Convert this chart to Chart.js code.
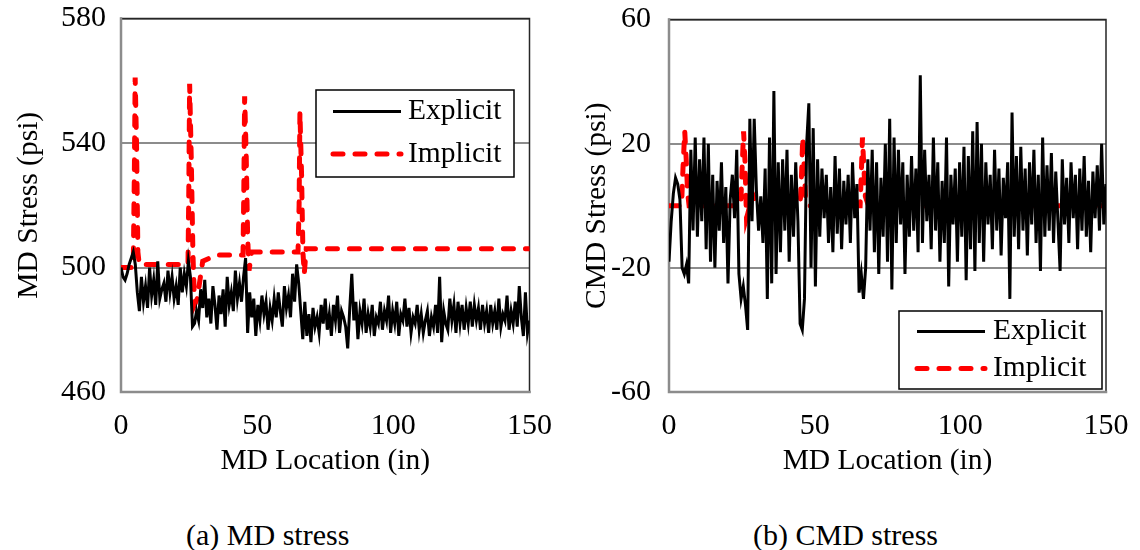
<!DOCTYPE html>
<html>
<head>
<meta charset="utf-8">
<script src="https://cdn.jsdelivr.net/npm/chart.js@4.4.1/dist/chart.umd.min.js"></script>
<style>
  body { margin: 0; background: #fff; width: 1140px; height: 550px; position: relative; overflow: hidden; }
  canvas { position: absolute; top: 0; }
  #mdChart { left: 0; }
  #cmdChart { left: 560px; }
  .caption { position: absolute; top: 519px; font-family: 'Liberation Serif', serif; font-size: 30px; line-height: 32px; color: #000; white-space: nowrap; }
</style>
</head>
<body>
<canvas id="mdChart" width="570" height="490"></canvas>
<canvas id="cmdChart" width="580" height="490"></canvas>
<div class="caption" style="left:186px">(a) MD stress</div>
<div class="caption" style="left:753px">(b) CMD stress</div>
<script>
const SERIF = "'Liberation Serif', 'Times New Roman', serif"

// explicit solution, sampled every 0.75 in along MD
const locStep = 0.75
const mdExplicit = [
    500, 497, 496, 498, 501, 503, 505, 501, 492, 486,
    497, 489, 494, 487, 500, 491, 496, 488, 502, 490,
    493, 495, 489, 499, 492, 497, 490, 494, 488, 500,
    492, 498, 494, 502, 497, 481, 482, 486, 483, 493,
    487, 496, 484, 490, 482, 494, 488, 480, 491, 485,
    493, 481, 497, 488, 492, 486, 499, 490, 495, 489,
    497, 503, 479, 492, 484, 490, 478, 488, 483, 491,
    485, 489, 480, 487, 483, 490, 484, 492, 486, 481,
    494, 487, 491, 484, 498, 489, 501, 495, 486, 477,
    489, 478, 485, 476, 487, 481, 484, 479, 488, 482,
    490, 480, 485, 478, 488, 483, 491, 479, 486, 484,
    481, 474, 487, 498, 483, 489, 477, 486, 482, 490,
    479, 485, 481, 488, 478, 484, 482, 489, 480, 486,
    483, 491, 479, 486, 482, 489, 478, 485, 483, 490,
    481, 487, 479, 484, 482, 488, 480, 485, 479, 483,
    486, 478, 484, 481, 488, 479, 497, 476, 486, 482,
    480, 490, 483, 488, 479, 489, 482, 488, 480, 487,
    482, 489, 481, 488, 483, 487, 480, 488, 482, 486,
    479, 488, 482, 486, 480, 490, 481, 485, 483, 491,
    480, 486, 482, 489, 481, 494, 484, 478, 492, 479,
    483
]
const cmdExplicit = [
    -18, -5, 4, 9, 7, 2, -20, -22, -19, -25,
    18, -8, 22, -10, 15, -5, 22, -14, 20, -18,
    10, -20, 8, -8, 14, -12, 6, -25, 2, 10,
    -4, 18, -22, -30, -26, -32, -40, 28, -5, 28,
    5, -8, 3, -12, 12, -30, 22, -25, 37, -22,
    14, -15, 15, -8, 18, -18, 10, -10, 14, -5,
    -38, -40, -30, 20, 33, -20, 25, -26, 15, -10,
    12, -4, 10, -12, 6, -15, 16, -9, 12, -14,
    8, -6, 10, -12, 14, -4, 7, -28, -22, -30,
    -20, 15, -8, 18, -15, 14, -22, 9, -10, 20,
    -18, 28, -27, 22, -12, 18, -6, 14, -22, 10,
    -10, 16, -8, 12, -15, 42, -12, 18, -5, 10,
    -14, 22, -8, 14, -18, 8, -12, 22, -26, 10,
    -6, 12, -18, 14, -10, 19, -24, 16, -14, 24,
    -21, 27, -12, 20, -18, 14, -6, 10, -14, 18,
    -8, 12, -16, 9, -4, 14, -30, 30, -10, 16,
    -14, 19, -8, 12, -16, 14, -6, 18, -12, 10,
    -21, 22, -10, 13, -8, 17, -12, 11, -5, -21,
    15, -6, 9, -12, 14, -4, 10, -14, 12, -8,
    16, -10, 8, -15, 11, -4, 13, -8, 20, -6,
    7
]
const locations = mdExplicit.map((_, i) => i * locStep)

// implicit solution, read at its break points
const mdImplicitX = [0, 4.5, 4.9, 5.2, 5.7, 6.2, 6.7, 24.6, 24.9, 25.2, 25.8, 26.4, 27.0, 28.0, 30.0, 35.0,
    44.8, 45.1, 45.4, 46.0, 46.5, 47.0, 48.0, 65.0, 65.4, 65.7, 66.3, 66.8, 67.3, 68.0, 150]
const mdImplicit = [500, 500, 530, 561, 540, 505, 501, 501, 525, 559, 535, 505, 488, 490, 502, 504,
    504, 525, 555, 535, 510, 499, 505, 505, 520, 550, 530, 505, 498, 506, 506]
const cmdImplicitX = [0, 4.3, 4.8, 5.4, 5.9, 6.4, 6.9, 24.6, 25.1, 25.6, 26.1, 26.6, 27.2, 28.6, 30.0, 31.5,
    45.0, 45.5, 45.9, 46.4, 46.9, 48.0, 65.6, 66.0, 66.4, 66.9, 67.4, 68.5, 150]
const cmdImplicit = [0, 0, 12, 24, 15, 4, 0, 0, 12, 24, 14, -4, -2, 4, 1, 0,
    0, 10, 22, 12, 2, 0, 0, 10, 22, 12, 3, 0, 0]

const pts = (xs, ys) => ys.map((y, i) => ({ x: xs[i], y: y }))

const frame = {
    id: 'frame',
    beforeDatasetsDraw(chart) {
        const { ctx, chartArea: a } = chart
        ctx.save()
        ctx.lineCap = 'square'
        ctx.strokeStyle = '#262626'
        ctx.lineWidth = 1.5
        ctx.beginPath()
        ctx.moveTo(a.left, a.top); ctx.lineTo(a.right, a.top); ctx.lineTo(a.right, a.bottom)
        ctx.stroke()
        ctx.strokeStyle = '#8c8c8c'
        ctx.lineWidth = 2.5
        ctx.beginPath()
        ctx.moveTo(a.left, a.top); ctx.lineTo(a.left, a.bottom); ctx.lineTo(a.right, a.bottom)
        ctx.stroke()
        ctx.restore()
    }
}

const boxLegend = {
    id: 'boxLegend',
    afterDatasetsDraw(chart, args, o) {
        const { ctx } = chart
        ctx.save()
        ctx.fillStyle = '#fff'
        ctx.fillRect(o.x, o.y, o.w, o.h)
        ctx.strokeStyle = '#000'
        ctx.lineWidth = 1.5
        ctx.strokeRect(o.x, o.y, o.w, o.h)
        chart.data.datasets.forEach((ds, i) => {
            const y = o.rows[i]
            ctx.strokeStyle = ds.borderColor
            ctx.lineWidth = ds.borderWidth
            ctx.lineCap = ds.borderCapStyle || 'butt'
            ctx.setLineDash(ds.borderDash || [])
            ctx.beginPath()
            ctx.moveTo(o.s0, y)
            ctx.lineTo(o.s1, y)
            ctx.stroke()
            ctx.setLineDash([])
            ctx.fillStyle = '#000'
            ctx.font = '29.5px ' + SERIF
            ctx.textBaseline = 'middle'
            ctx.fillText(ds.label, o.tx, y)
        })
        ctx.restore()
    }
}

const makeChart = (id, cfg) => {
    return new Chart(document.getElementById(id), {
        type: 'line',
        data: {
            datasets: [{
                label: 'Explicit',
                data: pts(locations, cfg.explicit),
                borderColor: '#000',
                borderWidth: 3,
                pointRadius: 0,
                tension: 0
            }, {
                label: 'Implicit',
                data: pts(cfg.implicitX, cfg.implicit),
                borderColor: '#ff0000',
                borderWidth: 5,
                borderDash: [10, 12],
                borderCapStyle: 'round',
                pointRadius: 0,
                tension: 0
            }]
        },
        options: {
            responsive: false,
            animation: false,
            layout: { padding: { top: cfg.top, right: cfg.right, bottom: 0, left: 0 } },
            plugins: {
                legend: { display: false },
                tooltip: { enabled: false },
                boxLegend: cfg.legend
            },
            scales: {
                x: {
                    type: 'linear',
                    min: 0,
                    max: 150,
                    ticks: { stepSize: 50, color: '#000', padding: 16, font: { family: SERIF, size: 30 } },
                    grid: { display: false, drawTicks: false },
                    border: { display: false },
                    title: {
                        display: true, text: 'MD Location (in)', color: '#000',
                        font: { family: SERIF, size: 29.5 }, padding: { top: 0, bottom: 11 }
                    },
                    afterFit: s => {
                        s.height = 98
                        s.paddingLeft = 0
                        s.paddingRight = 0
                    }
                },
                y: {
                    min: cfg.min,
                    max: cfg.max,
                    ticks: { stepSize: 40, color: '#000', padding: cfg.tickPad, font: { family: SERIF, size: 30 } },
                    grid: { color: '#8c8c8c', lineWidth: 2, drawTicks: false },
                    border: { display: false },
                    title: {
                        display: true, text: cfg.yTitle, color: '#000',
                        font: { family: SERIF, size: 29.5 }, padding: { top: cfg.titlePad, bottom: 0 }
                    },
                    afterFit: s => {
                        s.width = cfg.yWidth
                        s.paddingTop = 0
                        s.paddingBottom = 0
                    }
                }
            }
        },
        plugins: [frame, boxLegend]
    })
}

makeChart('mdChart', {
    explicit: mdExplicit, implicitX: mdImplicitX, implicit: mdImplicit,
    min: 460, max: 580, yTitle: 'MD Stress (psi)',
    top: 18.5, right: 40.5, yWidth: 121, tickPad: 15, titlePad: 12,
    legend: { x: 316, y: 90, w: 198, h: 87, rows: [111.5, 154], s0: 333, s1: 401, tx: 408 }
})

makeChart('cmdChart', {
    explicit: cmdExplicit, implicitX: cmdImplicitX, implicit: cmdImplicit,
    min: -60, max: 60, yTitle: 'CMD Stress (psi)',
    top: 19.5, right: 34, yWidth: 109, tickPad: 18, titlePad: 20,
    legend: { x: 339, y: 311, w: 203, h: 78, rows: [331.5, 368.5], s0: 357, s1: 425, tx: 433 }
})
</script>
</body>
</html>
